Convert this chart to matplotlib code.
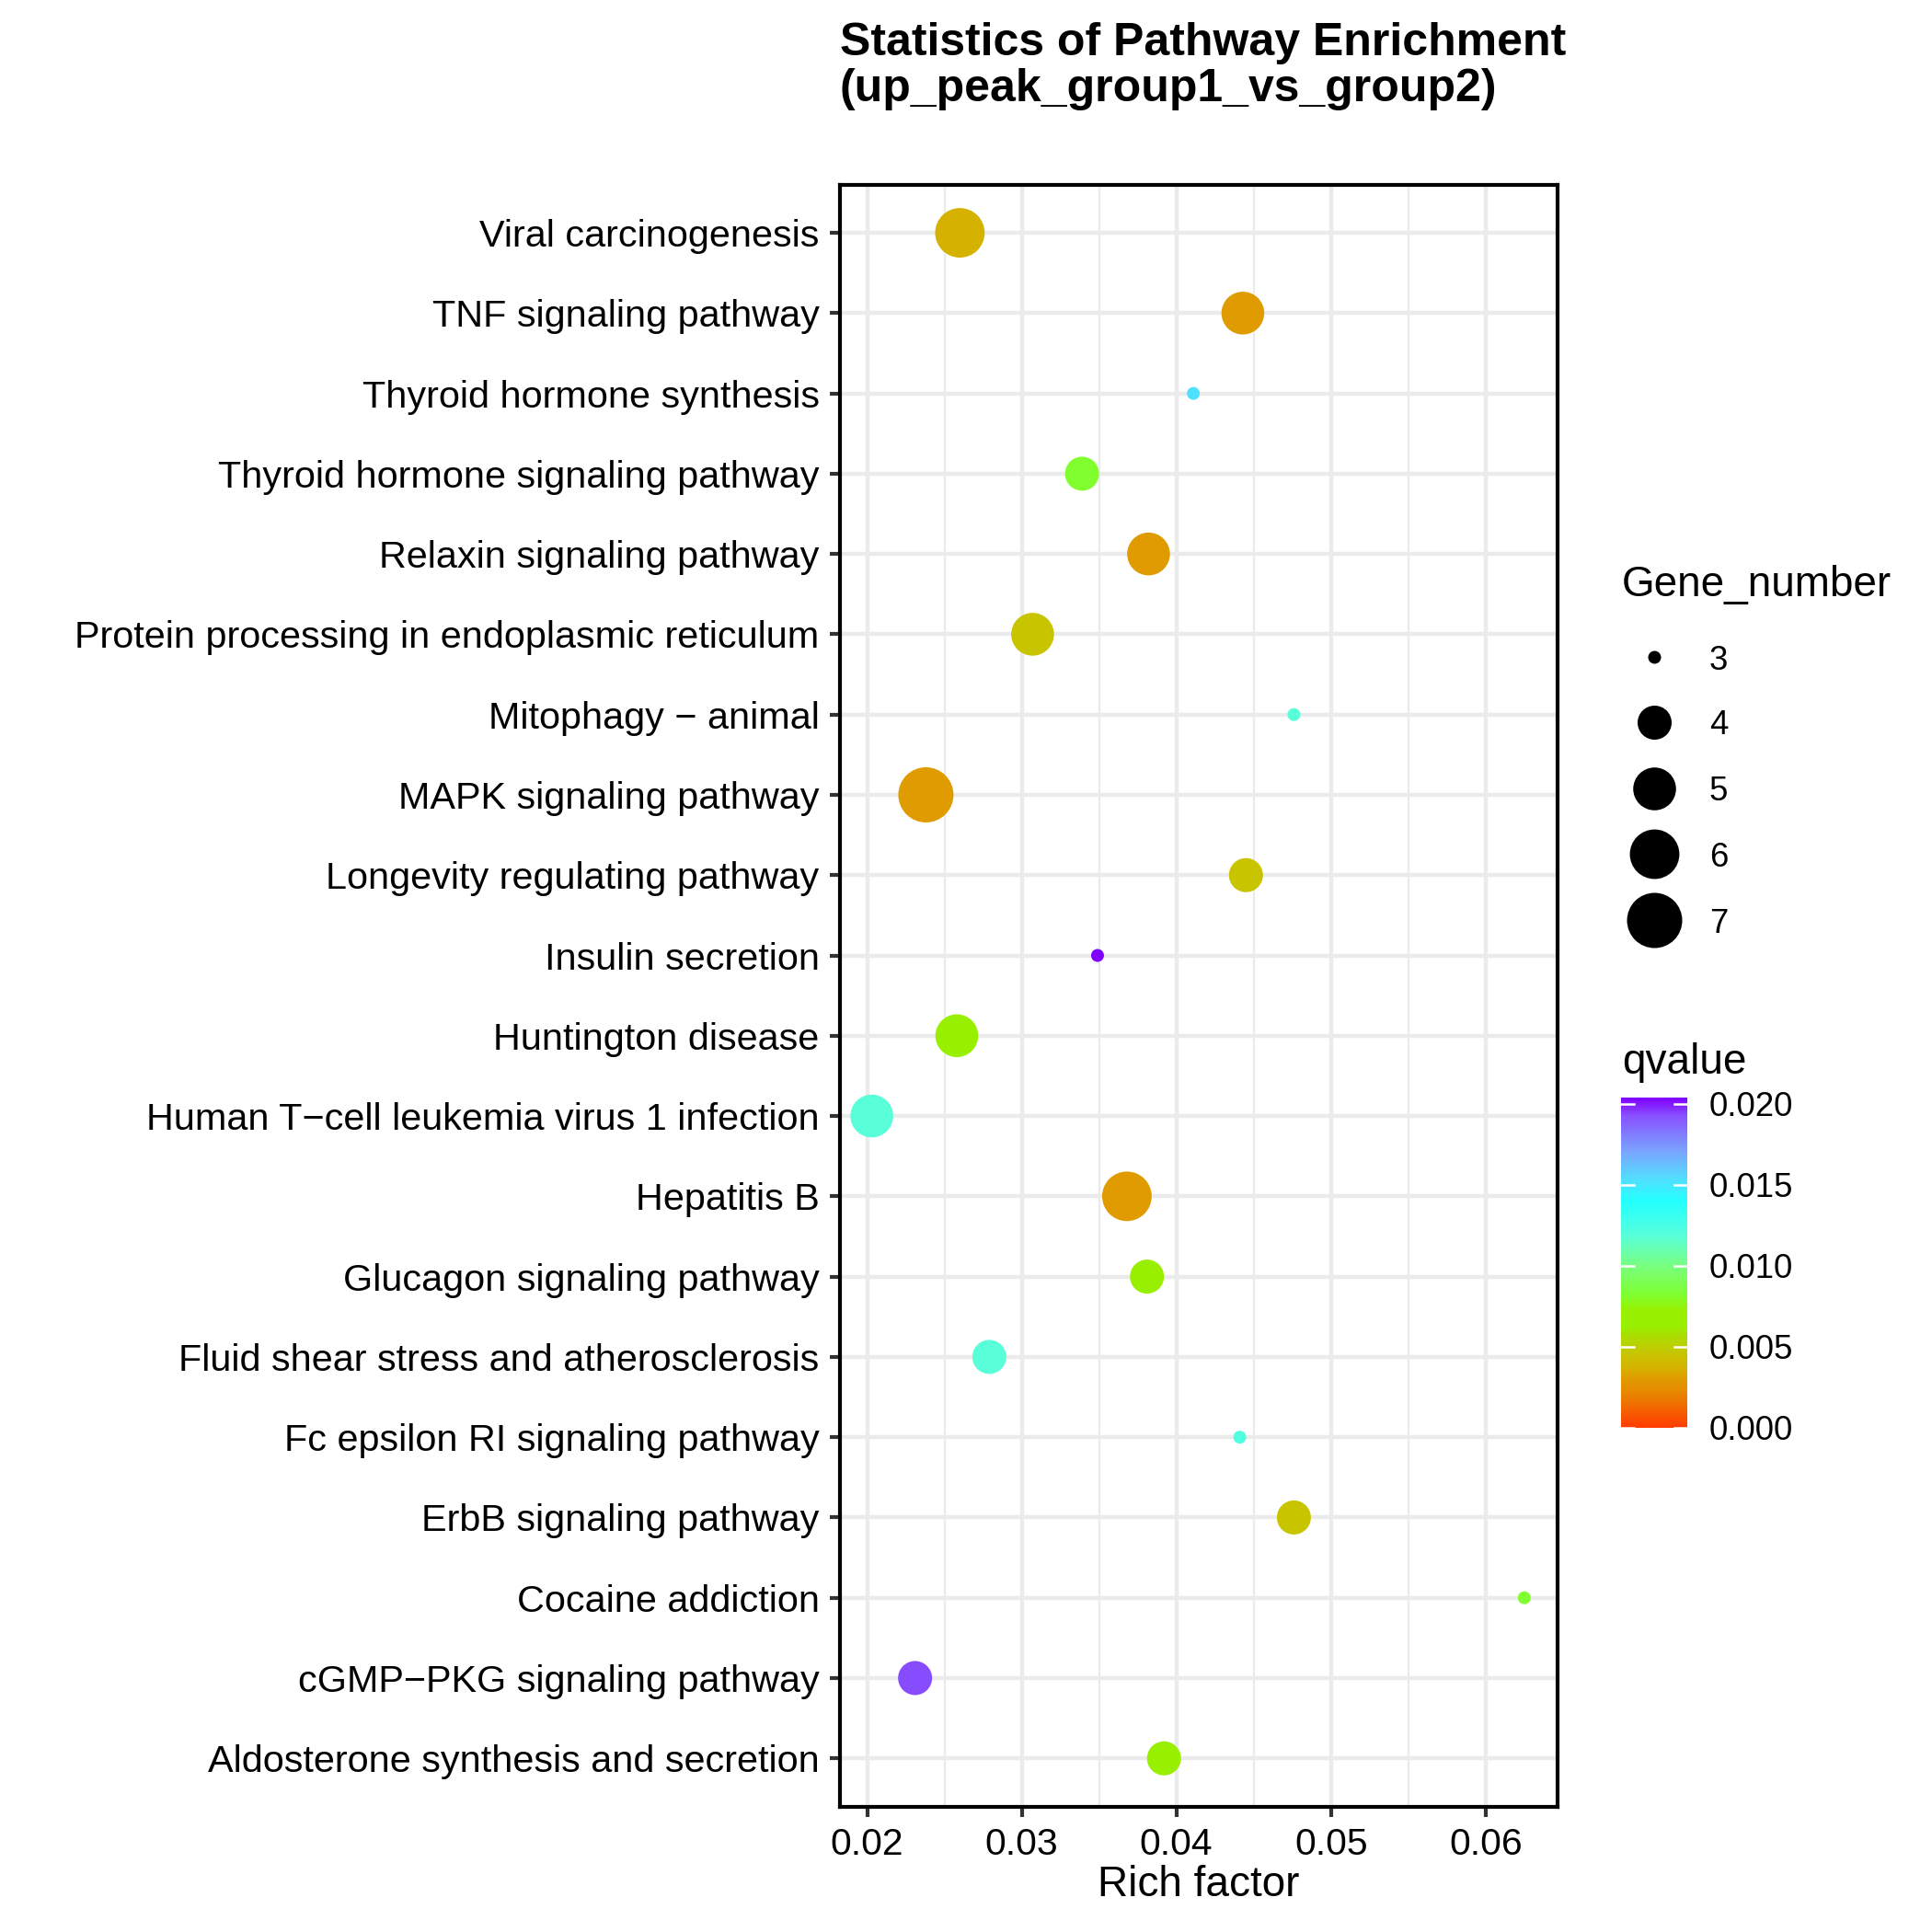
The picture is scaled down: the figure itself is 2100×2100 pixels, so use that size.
import numpy as np
import matplotlib
matplotlib.use("Agg")
import matplotlib.pyplot as plt
from matplotlib.colors import LinearSegmentedColormap, Normalize
from matplotlib.lines import Line2D

plt.rcParams['font.family'] = ['Liberation Sans', 'DejaVu Sans']

# Data (top row first)
pathways = [
    "Viral carcinogenesis",
    "TNF signaling pathway",
    "Thyroid hormone synthesis",
    "Thyroid hormone signaling pathway",
    "Relaxin signaling pathway",
    "Protein processing in endoplasmic reticulum",
    "Mitophagy \u2212 animal",
    "MAPK signaling pathway",
    "Longevity regulating pathway",
    "Insulin secretion",
    "Huntington disease",
    "Human T\u2212cell leukemia virus 1 infection",
    "Hepatitis B",
    "Glucagon signaling pathway",
    "Fluid shear stress and atherosclerosis",
    "Fc epsilon RI signaling pathway",
    "ErbB signaling pathway",
    "Cocaine addiction",
    "cGMP\u2212PKG signaling pathway",
    "Aldosterone synthesis and secretion",
]
rich_factor = [0.0260, 0.0443, 0.0411, 0.0339, 0.0382, 0.0307, 0.0476, 0.0238,
               0.0445, 0.0349, 0.0258, 0.0203, 0.0368, 0.0381, 0.0279, 0.0441,
               0.0476, 0.0625, 0.0231, 0.0392]
gene_number = [6, 5, 3, 4, 5, 5, 3, 7, 4, 3, 5, 5, 6, 4, 4, 3, 4, 3, 4, 4]
qvalue = [0.0037, 0.0030, 0.0153, 0.0082, 0.0030, 0.0045, 0.0118, 0.0030,
          0.0045, 0.0204, 0.0066, 0.0118, 0.0030, 0.0066, 0.0118, 0.0122,
          0.0045, 0.0082, 0.0193, 0.0066]

size_breaks = [3, 4, 5, 6, 7]
q_ticks = [0.0, 0.005, 0.010, 0.015, 0.020]
q_max = 0.0204

# colour ramp (qvalue, colour)
ramp = [(0.0000, "#ff3d00"), (0.0010, "#f56000"), (0.0020, "#e88400"),
        (0.0030, "#e09c00"), (0.0037, "#d6b300"), (0.0045, "#c8c400"),
        (0.0058, "#a8e000"), (0.0062, "#98f000"), (0.0072, "#98f000"),
        (0.0082, "#80ff30"), (0.0100, "#78ff80"), (0.0118, "#5affd8"),
        (0.0122, "#50ffe0"), (0.0140, "#22ffff"), (0.0153, "#50e0ff"),
        (0.0170, "#78a8ff"), (0.0193, "#8850ff"), (0.0204, "#8000ff")]
cmap = LinearSegmentedColormap.from_list("qv", [(v / q_max, c) for v, c in ramp])
norm = Normalize(0, q_max)


def diam_pt(n):
    # ggplot area scale: diameter 14px .. 60px at 300 dpi
    px = 14 + 46 * np.sqrt((n - 3) / 4.0)
    return px * 72.0 / 300.0


W = 2100.0
fig = plt.figure(figsize=(7, 7), dpi=300)
ax = fig.add_axes([912.8 / W, 1 - 1963.6 / W, (1692.6 - 912.8) / W, (1963.6 - 200.7) / W])

n = len(pathways)
ypos = np.arange(n)[::-1]
sizes = [diam_pt(g) ** 2 for g in gene_number]
sc = ax.scatter(rich_factor, ypos, s=sizes, c=qvalue, cmap=cmap, norm=norm,
                linewidths=0, zorder=3)

ax.set_xlim(0.01823, 0.06463)
ax.set_ylim(-0.6, n - 0.4)
ax.set_xticks([0.02, 0.03, 0.04, 0.05, 0.06])
ax.set_xticklabels(["0.02", "0.03", "0.04", "0.05", "0.06"])
ax.set_xticks([0.025, 0.035, 0.045, 0.055], minor=True)
ax.set_yticks(ypos)
ax.set_yticklabels(pathways)

ax.set_axisbelow(True)
ax.grid(which='major', color='#ebebeb', linewidth=1.07)
ax.grid(which='minor', axis='x', color='#ebebeb', linewidth=0.55)
ax.tick_params(which='major', length=2.75, width=1.0, color='#333333',
               labelsize=9.8, labelcolor='black', pad=2.6)
ax.tick_params(axis='y', labelsize=9.95)
ax.tick_params(which='minor', length=0)
for sp in ax.spines.values():
    sp.set_color('black')
    sp.set_linewidth(1.0)

ax.set_xlabel("Rich factor", fontsize=11)
ax.xaxis.set_label_coords(0.5, (1963.6 - 2049) / (1963.6 - 200.7))
ax.xaxis.label.set_va('center')

fig.text(912.8 / W, 1 - 24 / W,
         "Statistics of Pathway Enrichment\n(up_peak_group1_vs_group2)",
         fontsize=12, fontweight='bold', ha='left', va='top', linespacing=1.12)

# size legend
fig.text(1763 / W, 1 - 636 / W, "Gene_number", fontsize=11, ha='left', va='center')
leg_y = [714, 785, 857, 928, 1000]
for g, yy in zip(size_breaks, leg_y):
    fig.add_artist(Line2D([1798 / W], [1 - yy / W], marker='o', linestyle='none',
                          markersize=diam_pt(g), color='black', markeredgewidth=0,
                          transform=fig.transFigure))
    fig.text(1858 / W, 1 - yy / W, str(g), fontsize=8.8, ha='left',
             va='center_baseline')

# colour bar
fig.text(1763 / W, 1 - 1155 / W, "qvalue", fontsize=11, ha='left', va='center')
cax = fig.add_axes([1762 / W, 1 - 1551.7 / W, 72 / W, (1551.7 - 1192.7) / W])
cb = fig.colorbar(sc, cax=cax)
cb.outline.set_visible(False)
cb.set_ticks(q_ticks)
cb.set_ticklabels(["%.3f" % t for t in q_ticks])
cax.tick_params(length=0, pad=5.7, labelsize=8.8)
for t in q_ticks:
    cax.plot([0, 0.19], [t, t], color='white', lw=0.6, transform=cax.get_yaxis_transform())
    cax.plot([0.81, 1], [t, t], color='white', lw=0.6, transform=cax.get_yaxis_transform())

fig.savefig("out.png", dpi=300)
